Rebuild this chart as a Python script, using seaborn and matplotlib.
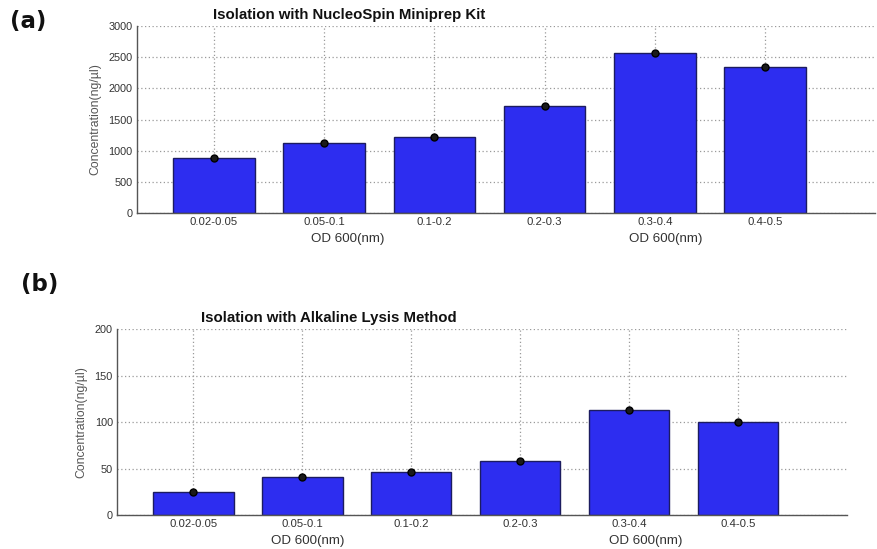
import matplotlib
matplotlib.use("Agg")
import matplotlib.pyplot as plt
import matplotlib.transforms as mtransforms
import seaborn as sns
import pandas as pd

# OD600 ranges at harvest
od_ranges = ["0.02-0.05", "0.05-0.1", "0.1-0.2", "0.2-0.3", "0.3-0.4", "0.4-0.5"]

# plasmid DNA concentration (ng/µl)
nucleospin_conc = [880, 1120, 1220, 1710, 2560, 2350]
alkaline_conc = [25, 41, 46, 58, 113, 100]

nucleo_ticks = [0, 500, 1000, 1500, 2000, 2500, 3000]
alkaline_ticks = [0, 50, 100, 150, 200]

BAR = "#2d2df0"
EDGE = "#1c1c60"
GRID = "#9a9a9a"
TXT = "#333333"

sns.set_theme(style="white")
plt.rcParams["font.family"] = ["Liberation Sans", "DejaVu Sans"]

fig = plt.figure(figsize=(8.77, 5.49), dpi=100)
fig.patch.set_facecolor("white")

ax_a = fig.add_axes([0.156, 0.612, 0.842, 0.3406])
ax_b = fig.add_axes([0.1334, 0.0619, 0.8324, 0.3383])


def draw_panel(ax, values, ticks, title, title_x, xlabel_pos):
    df = pd.DataFrame({"od": od_ranges, "conc": values})
    sns.barplot(data=df, x="od", y="conc", ax=ax, color=BAR, width=0.74,
                saturation=1, edgecolor=EDGE, linewidth=1.0, zorder=2)
    sns.pointplot(data=df, x="od", y="conc", ax=ax, linestyle="none",
                  marker="o", color="#1a1a1a", markersize=5,
                  markeredgecolor="black", markeredgewidth=1.0, zorder=4)
    ax.set_xlim(-0.7, 6.0)
    ax.set_ylim(ticks[0], ticks[-1])
    ax.set_yticks(ticks)
    ax.set_yticklabels([str(t) for t in ticks])
    ax.set_xticks(range(len(od_ranges)))
    ax.set_xticklabels(od_ranges)
    ax.tick_params(axis="x", labelsize=8.2, colors=TXT, length=0, pad=3)
    ax.tick_params(axis="y", labelsize=7.8, colors=TXT, length=0, pad=3)
    ax.set_xlabel("")
    ax.set_ylabel("Concentration(ng/µl)", fontsize=8.8, color="#555555", labelpad=5)
    ax.grid(True, linestyle=(0, (1, 2)), color=GRID, linewidth=0.9, zorder=0)
    ax.set_axisbelow(True)
    for side in ("top", "right"):
        ax.spines[side].set_visible(False)
    for side in ("left", "bottom"):
        ax.spines[side].set_color("#555555")
        ax.spines[side].set_linewidth(1.0)
    ax.set_title(title, x=title_x, fontsize=10.8, fontweight="bold", color="#111111", pad=5)
    trans = mtransforms.blended_transform_factory(ax.transAxes, ax.transAxes)
    for xp in xlabel_pos:
        ax.text(xp, -0.138, "OD 600(nm)", transform=trans, ha="center", va="center",
                fontsize=9.6, color=TXT)


draw_panel(ax_a, nucleospin_conc, nucleo_ticks,
           "Isolation with NucleoSpin Miniprep Kit", 0.288, [0.285, 0.716])
draw_panel(ax_b, alkaline_conc, alkaline_ticks,
           "Isolation with Alkaline Lysis Method", 0.29, [0.261, 0.724])

fig.text(0.011, 0.96, "(a)", fontsize=16.5, fontweight="bold", family="DejaVu Sans",
         color="#111111", va="center")
fig.text(0.024, 0.482, "(b)", fontsize=16.5, fontweight="bold", family="DejaVu Sans",
         color="#111111", va="center")

fig.savefig("out.png", dpi=100, facecolor="white")
